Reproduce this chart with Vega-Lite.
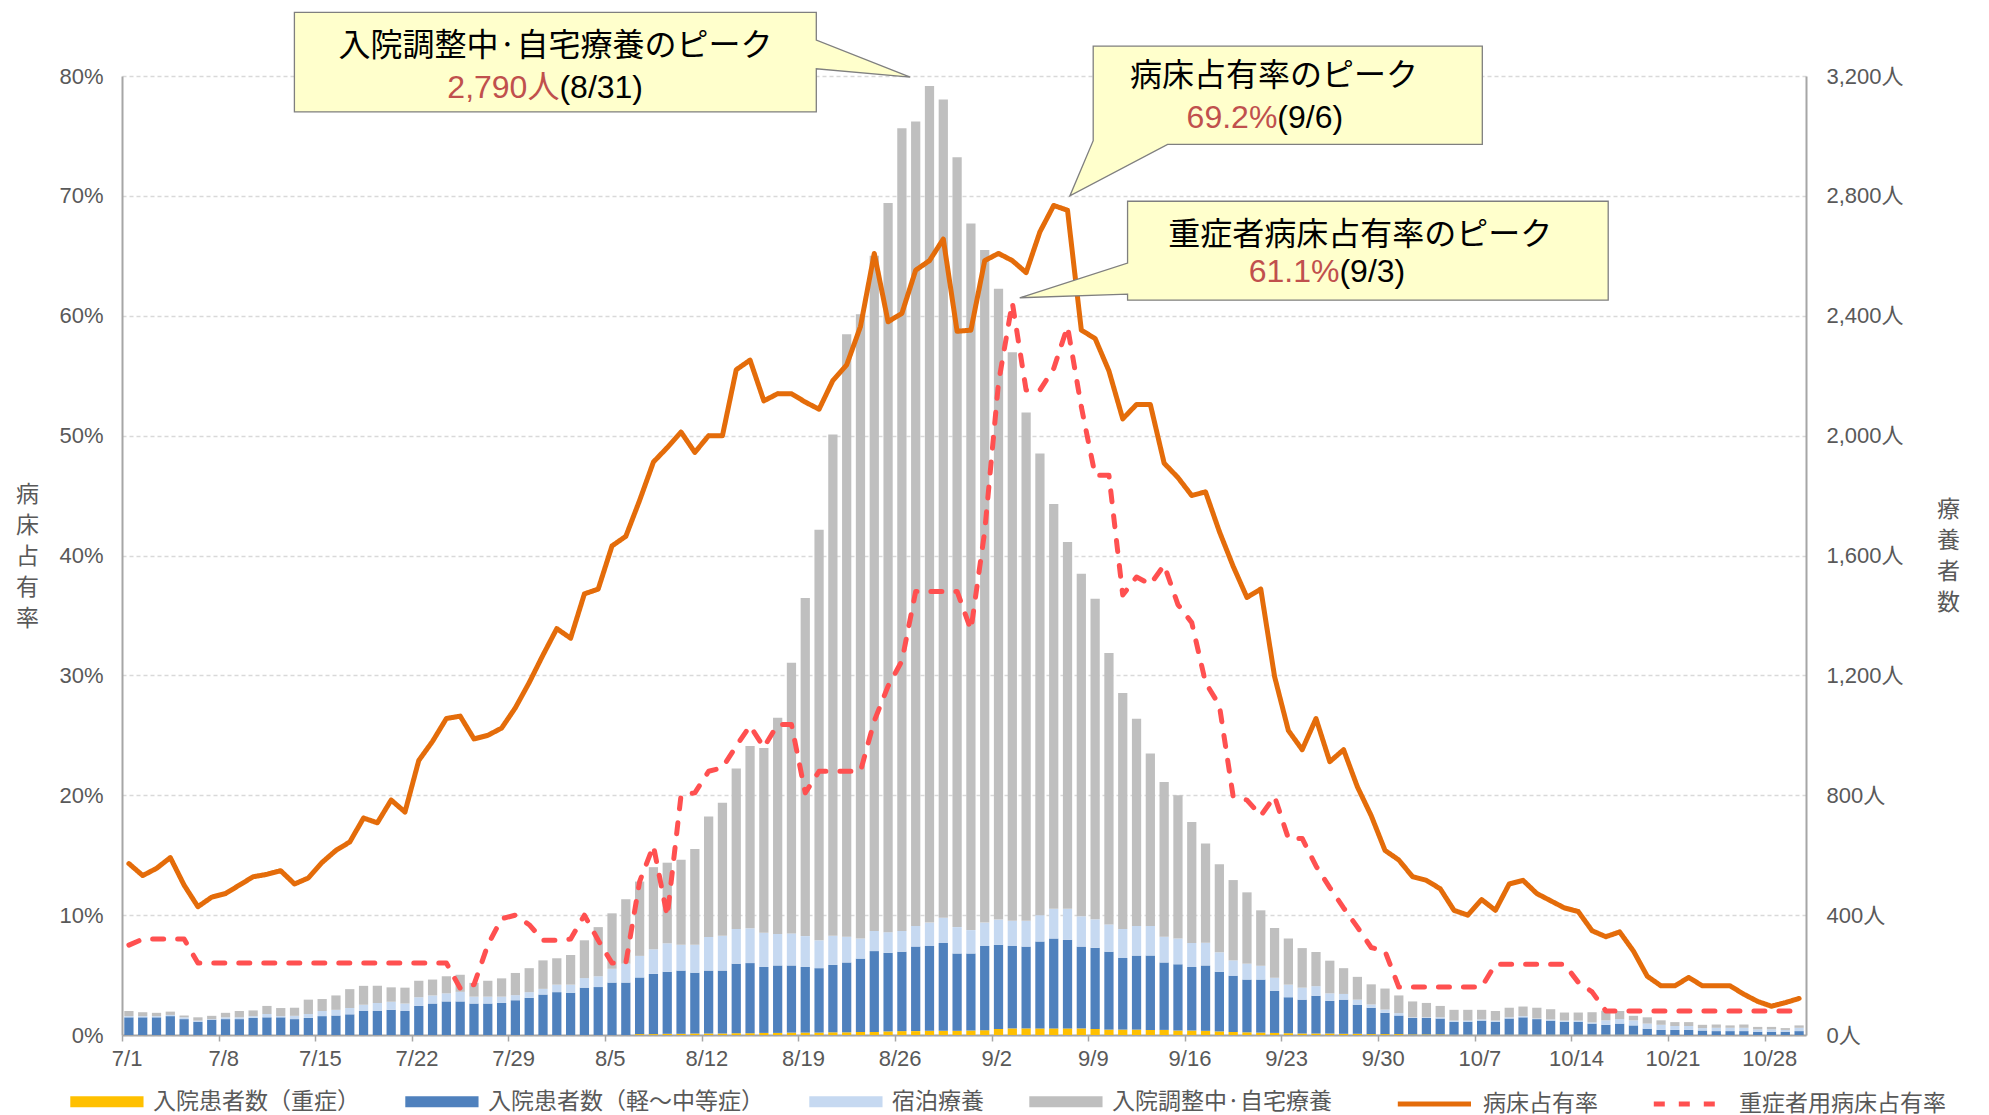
{
  "$schema": "https://vega.github.io/schema/vega-lite/v6.json",
  "width": 1684,
  "height": 959,
  "autosize": {"type": "none"},
  "padding": {"left": 122, "top": 76, "right": 183, "bottom": 80},
  "background": "white",
  "config": {
    "view": {"stroke": null},
    "axis": {"labelFont": "Liberation Sans, Noto Sans CJK JP", "titleFont": "Noto Sans CJK JP", "labelColor": "#595959", "titleColor": "#595959"},
    "legend": {"labelFont": "Noto Sans CJK JP", "labelColor": "#595959", "labelLimit": 500}
  },
  "datasets": {
    "t": [
      {"d":"7/1","b1":0,"b2":59,"b3":4,"b4":17,"occ":14.3,"socc":7.5},
      {"d":"7/2","b1":0,"b2":59,"b3":4,"b4":13,"occ":13.3,"socc":8.0},
      {"d":"7/3","b1":0,"b2":59,"b3":4,"b4":11,"occ":13.9,"socc":8.0},
      {"d":"7/4","b1":0,"b2":63,"b3":4,"b4":11,"occ":14.8,"socc":8.0},
      {"d":"7/5","b1":0,"b2":53,"b3":6,"b4":6,"occ":12.5,"socc":8.0},
      {"d":"7/6","b1":0,"b2":44,"b3":4,"b4":11,"occ":10.7,"socc":6.0},
      {"d":"7/7","b1":0,"b2":51,"b3":2,"b4":11,"occ":11.5,"socc":6.0},
      {"d":"7/8","b1":0,"b2":53,"b3":6,"b4":15,"occ":11.8,"socc":6.0},
      {"d":"7/9","b1":0,"b2":53,"b3":6,"b4":21,"occ":12.5,"socc":6.0},
      {"d":"7/10","b1":0,"b2":57,"b3":6,"b4":19,"occ":13.2,"socc":6.0},
      {"d":"7/11","b1":0,"b2":59,"b3":11,"b4":27,"occ":13.4,"socc":6.0},
      {"d":"7/12","b1":0,"b2":59,"b3":4,"b4":27,"occ":13.7,"socc":6.0},
      {"d":"7/13","b1":0,"b2":53,"b3":11,"b4":27,"occ":12.6,"socc":6.0},
      {"d":"7/14","b1":0,"b2":57,"b3":13,"b4":48,"occ":13.1,"socc":6.0},
      {"d":"7/15","b1":0,"b2":63,"b3":17,"b4":40,"occ":14.4,"socc":6.0},
      {"d":"7/16","b1":0,"b2":65,"b3":19,"b4":48,"occ":15.4,"socc":6.0},
      {"d":"7/17","b1":0,"b2":69,"b3":21,"b4":63,"occ":16.1,"socc":6.0},
      {"d":"7/18","b1":0,"b2":80,"b3":21,"b4":63,"occ":18.1,"socc":6.0},
      {"d":"7/19","b1":0,"b2":80,"b3":27,"b4":57,"occ":17.7,"socc":6.0},
      {"d":"7/20","b1":0,"b2":84,"b3":27,"b4":48,"occ":19.6,"socc":6.0},
      {"d":"7/21","b1":0,"b2":80,"b3":25,"b4":53,"occ":18.6,"socc":6.0},
      {"d":"7/22","b1":0,"b2":97,"b3":29,"b4":55,"occ":22.9,"socc":6.0},
      {"d":"7/23","b1":0,"b2":105,"b3":27,"b4":53,"occ":24.5,"socc":6.0},
      {"d":"7/24","b1":0,"b2":112,"b3":27,"b4":57,"occ":26.4,"socc":6.0},
      {"d":"7/25","b1":0,"b2":112,"b3":32,"b4":57,"occ":26.6,"socc":3.9},
      {"d":"7/26","b1":0,"b2":105,"b3":23,"b4":46,"occ":24.7,"socc":4.2},
      {"d":"7/27","b1":0,"b2":105,"b3":23,"b4":53,"occ":25.0,"socc":7.5},
      {"d":"7/28","b1":0,"b2":107,"b3":21,"b4":61,"occ":25.6,"socc":9.7},
      {"d":"7/29","b1":0,"b2":116,"b3":17,"b4":74,"occ":27.3,"socc":10.0},
      {"d":"7/30","b1":0,"b2":124,"b3":19,"b4":80,"occ":29.4,"socc":9.2},
      {"d":"7/31","b1":0,"b2":135,"b3":19,"b4":95,"occ":31.7,"socc":7.9},
      {"d":"8/1","b1":0,"b2":143,"b3":25,"b4":88,"occ":33.9,"socc":7.9},
      {"d":"8/2","b1":0,"b2":141,"b3":27,"b4":99,"occ":33.1,"socc":8.0},
      {"d":"8/3","b1":0,"b2":158,"b3":32,"b4":126,"occ":36.8,"socc":10.0},
      {"d":"8/4","b1":0,"b2":160,"b3":36,"b4":164,"occ":37.2,"socc":7.9},
      {"d":"8/5","b1":0,"b2":175,"b3":46,"b4":185,"occ":40.8,"socc":6.0},
      {"d":"8/6","b1":0,"b2":175,"b3":63,"b4":215,"occ":41.6,"socc":6.0},
      {"d":"8/7","b1":3,"b2":189,"b3":72,"b4":248,"occ":44.6,"socc":12.8},
      {"d":"8/8","b1":3,"b2":201,"b3":82,"b4":274,"occ":47.8,"socc":15.8},
      {"d":"8/9","b1":4,"b2":207,"b3":95,"b4":269,"occ":49.0,"socc":9.9},
      {"d":"8/10","b1":4,"b2":211,"b3":86,"b4":284,"occ":50.3,"socc":20.0},
      {"d":"8/11","b1":5,"b2":203,"b3":93,"b4":320,"occ":48.6,"socc":20.2},
      {"d":"8/12","b1":5,"b2":210,"b3":112,"b4":402,"occ":50.0,"socc":22.0},
      {"d":"8/13","b1":5,"b2":210,"b3":116,"b4":444,"occ":50.0,"socc":22.3},
      {"d":"8/14","b1":6,"b2":232,"b3":116,"b4":535,"occ":55.5,"socc":24.1},
      {"d":"8/15","b1":6,"b2":234,"b3":116,"b4":608,"occ":56.3,"socc":25.8},
      {"d":"8/16","b1":7,"b2":220,"b3":114,"b4":617,"occ":52.9,"socc":24.0},
      {"d":"8/17","b1":7,"b2":225,"b3":105,"b4":722,"occ":53.5,"socc":25.9},
      {"d":"8/18","b1":8,"b2":224,"b3":107,"b4":903,"occ":53.5,"socc":25.9},
      {"d":"8/19","b1":8,"b2":219,"b3":103,"b4":1128,"occ":52.8,"socc":20.2},
      {"d":"8/20","b1":8,"b2":215,"b3":93,"b4":1370,"occ":52.2,"socc":22.0},
      {"d":"8/21","b1":9,"b2":225,"b3":97,"b4":1673,"occ":54.6,"socc":22.0},
      {"d":"8/22","b1":9,"b2":233,"b3":86,"b4":2010,"occ":55.9,"socc":22.0},
      {"d":"8/23","b1":10,"b2":245,"b3":67,"b4":2083,"occ":59.1,"socc":22.0},
      {"d":"8/24","b1":10,"b2":270,"b3":67,"b4":2253,"occ":65.2,"socc":26.2},
      {"d":"8/25","b1":12,"b2":262,"b3":69,"b4":2433,"occ":59.5,"socc":29.1},
      {"d":"8/26","b1":13,"b2":265,"b3":69,"b4":2679,"occ":60.2,"socc":31.2},
      {"d":"8/27","b1":13,"b2":282,"b3":69,"b4":2684,"occ":63.8,"socc":37.0},
      {"d":"8/28","b1":14,"b2":283,"b3":78,"b4":2792,"occ":64.6,"socc":37.0},
      {"d":"8/29","b1":14,"b2":293,"b3":84,"b4":2731,"occ":66.4,"socc":37.0},
      {"d":"8/30","b1":14,"b2":258,"b3":88,"b4":2569,"occ":58.7,"socc":37.0},
      {"d":"8/31","b1":15,"b2":257,"b3":78,"b4":2358,"occ":58.8,"socc":33.8},
      {"d":"9/1","b1":16,"b2":281,"b3":78,"b4":2244,"occ":64.6,"socc":42.0},
      {"d":"9/2","b1":20,"b2":281,"b3":84,"b4":2105,"occ":65.2,"socc":54.4},
      {"d":"9/3","b1":22,"b2":275,"b3":84,"b4":1897,"occ":64.6,"socc":61.1},
      {"d":"9/4","b1":22,"b2":273,"b3":86,"b4":1696,"occ":63.6,"socc":53.8},
      {"d":"9/5","b1":22,"b2":290,"b3":88,"b4":1540,"occ":67.0,"socc":53.8},
      {"d":"9/6","b1":22,"b2":300,"b3":99,"b4":1351,"occ":69.2,"socc":55.6},
      {"d":"9/7","b1":22,"b2":296,"b3":103,"b4":1224,"occ":68.8,"socc":59.1},
      {"d":"9/8","b1":22,"b2":273,"b3":101,"b4":1143,"occ":58.8,"socc":52.4},
      {"d":"9/9","b1":20,"b2":271,"b3":95,"b4":1070,"occ":58.1,"socc":46.7},
      {"d":"9/10","b1":18,"b2":260,"b3":91,"b4":906,"occ":55.4,"socc":46.7},
      {"d":"9/11","b1":18,"b2":239,"b3":97,"b4":787,"occ":51.4,"socc":36.7},
      {"d":"9/12","b1":18,"b2":247,"b3":99,"b4":691,"occ":52.6,"socc":38.2},
      {"d":"9/13","b1":17,"b2":248,"b3":99,"b4":575,"occ":52.6,"socc":37.6},
      {"d":"9/14","b1":17,"b2":225,"b3":86,"b4":516,"occ":47.7,"socc":39.2},
      {"d":"9/15","b1":15,"b2":221,"b3":86,"b4":478,"occ":46.5,"socc":35.9},
      {"d":"9/16","b1":15,"b2":212,"b3":80,"b4":404,"occ":45.0,"socc":34.4},
      {"d":"9/17","b1":14,"b2":218,"b3":76,"b4":331,"occ":45.3,"socc":29.4},
      {"d":"9/18","b1":12,"b2":199,"b3":65,"b4":294,"occ":42.0,"socc":27.5},
      {"d":"9/19","b1":10,"b2":188,"b3":51,"b4":268,"occ":39.1,"socc":19.9},
      {"d":"9/20","b1":9,"b2":176,"b3":53,"b4":238,"occ":36.5,"socc":19.6},
      {"d":"9/21","b1":8,"b2":177,"b3":46,"b4":185,"occ":37.2,"socc":18.3},
      {"d":"9/22","b1":7,"b2":140,"b3":44,"b4":166,"occ":29.9,"socc":19.9},
      {"d":"9/23","b1":6,"b2":120,"b3":42,"b4":154,"occ":25.4,"socc":16.4},
      {"d":"9/24","b1":5,"b2":113,"b3":40,"b4":132,"occ":23.8,"socc":16.4},
      {"d":"9/25","b1":5,"b2":126,"b3":32,"b4":114,"occ":26.4,"socc":14.1},
      {"d":"9/26","b1":5,"b2":109,"b3":25,"b4":109,"occ":22.8,"socc":12.3},
      {"d":"9/27","b1":4,"b2":114,"b3":19,"b4":86,"occ":23.8,"socc":10.6},
      {"d":"9/28","b1":4,"b2":97,"b3":17,"b4":76,"occ":20.7,"socc":9.0},
      {"d":"9/29","b1":3,"b2":88,"b3":11,"b4":67,"occ":18.3,"socc":7.3},
      {"d":"9/30","b1":3,"b2":71,"b3":11,"b4":70,"occ":15.4,"socc":7.0},
      {"d":"10/1","b1":3,"b2":62,"b3":8,"b4":59,"occ":14.6,"socc":4.0},
      {"d":"10/2","b1":2,"b2":55,"b3":2,"b4":53,"occ":13.2,"socc":4.0},
      {"d":"10/3","b1":2,"b2":55,"b3":2,"b4":48,"occ":12.9,"socc":4.0},
      {"d":"10/4","b1":2,"b2":53,"b3":4,"b4":38,"occ":12.2,"socc":4.0},
      {"d":"10/5","b1":1,"b2":43,"b3":4,"b4":36,"occ":10.4,"socc":4.0},
      {"d":"10/6","b1":1,"b2":43,"b3":4,"b4":36,"occ":10.0,"socc":4.0},
      {"d":"10/7","b1":1,"b2":47,"b3":4,"b4":32,"occ":11.3,"socc":4.0},
      {"d":"10/8","b1":1,"b2":43,"b3":4,"b4":32,"occ":10.4,"socc":5.9},
      {"d":"10/9","b1":1,"b2":54,"b3":4,"b4":32,"occ":12.6,"socc":5.9},
      {"d":"10/10","b1":1,"b2":58,"b3":4,"b4":32,"occ":12.9,"socc":5.9},
      {"d":"10/11","b1":1,"b2":52,"b3":2,"b4":36,"occ":11.8,"socc":5.9},
      {"d":"10/12","b1":1,"b2":47,"b3":4,"b4":34,"occ":11.2,"socc":5.9},
      {"d":"10/13","b1":1,"b2":43,"b3":4,"b4":27,"occ":10.6,"socc":5.9},
      {"d":"10/14","b1":1,"b2":43,"b3":4,"b4":27,"occ":10.3,"socc":4.4},
      {"d":"10/15","b1":1,"b2":37,"b3":4,"b4":34,"occ":8.7,"socc":3.6},
      {"d":"10/16","b1":1,"b2":33,"b3":15,"b4":32,"occ":8.2,"socc":2.0},
      {"d":"10/17","b1":1,"b2":37,"b3":15,"b4":27,"occ":8.6,"socc":2.0},
      {"d":"10/18","b1":1,"b2":31,"b3":17,"b4":15,"occ":7.0,"socc":2.0},
      {"d":"10/19","b1":0,"b2":21,"b3":17,"b4":21,"occ":4.9,"socc":2.0},
      {"d":"10/20","b1":0,"b2":17,"b3":17,"b4":15,"occ":4.1,"socc":2.0},
      {"d":"10/21","b1":0,"b2":17,"b3":13,"b4":13,"occ":4.1,"socc":2.0},
      {"d":"10/22","b1":0,"b2":17,"b3":13,"b4":13,"occ":4.8,"socc":2.0},
      {"d":"10/23","b1":0,"b2":15,"b3":8,"b4":11,"occ":4.1,"socc":2.0},
      {"d":"10/24","b1":0,"b2":13,"b3":11,"b4":11,"occ":4.1,"socc":2.0},
      {"d":"10/25","b1":0,"b2":13,"b3":11,"b4":8,"occ":4.1,"socc":2.0},
      {"d":"10/26","b1":0,"b2":13,"b3":11,"b4":11,"occ":3.4,"socc":2.0},
      {"d":"10/27","b1":0,"b2":11,"b3":8,"b4":8,"occ":2.8,"socc":2.0},
      {"d":"10/28","b1":0,"b2":11,"b3":8,"b4":8,"occ":2.4,"socc":2.0},
      {"d":"10/29","b1":0,"b2":11,"b3":6,"b4":6,"occ":2.7,"socc":2.0},
      {"d":"10/30","b1":0,"b2":13,"b3":11,"b4":8,"occ":3.05,"socc":2.0}
    ],
    "callouts": [
      {"b":"p1","k":0,"x":12.49,"y":85.3},
      {"b":"p1","k":1,"x":50.3,"y":85.3},
      {"b":"p1","k":2,"x":50.3,"y":83.0},
      {"b":"p1","k":3,"x":57.1,"y":79.9},
      {"b":"p1","k":4,"x":50.3,"y":80.6},
      {"b":"p1","k":5,"x":50.3,"y":77.0},
      {"b":"p1","k":6,"x":12.49,"y":77.0},
      {"b":"p2","k":0,"x":70.36,"y":82.5},
      {"b":"p2","k":1,"x":98.55,"y":82.5},
      {"b":"p2","k":2,"x":98.55,"y":74.3},
      {"b":"p2","k":3,"x":75.75,"y":74.3},
      {"b":"p2","k":4,"x":68.67,"y":70.0},
      {"b":"p2","k":5,"x":70.36,"y":74.6},
      {"b":"p3","k":0,"x":72.85,"y":69.55},
      {"b":"p3","k":1,"x":107.67,"y":69.55},
      {"b":"p3","k":2,"x":107.67,"y":61.3},
      {"b":"p3","k":3,"x":72.85,"y":61.3},
      {"b":"p3","k":4,"x":72.85,"y":61.8},
      {"b":"p3","k":5,"x":65.04,"y":61.5},
      {"b":"p3","k":6,"x":72.85,"y":64.4}
    ],
    "heads": [
      {"x":31.4,"y":82.5,"t":"入院調整中·自宅療養のピーク"},
      {"x":83.46,"y":80.0,"t":"病床占有率のピーク"},
      {"x":89.7,"y":66.7,"t":"重症者病床占有率のピーク"}
    ],
    "peaks": [
      {"x":31.69,"y":79.0,"v":"2,790人","p":"(8/31)"},
      {"x":83.7,"y":76.5,"v":"69.2%","p":"(9/6)"},
      {"x":88.2,"y":63.66,"v":"61.1%","p":"(9/3)"}
    ]
  },
  "resolve": {"scale": {"x": "independent", "y": "independent", "color": "independent", "strokeDash": "independent"}},
  "layer": [
    {
      "data": {"name": "t"},
      "transform": [{"fold": ["b1", "b2", "b3", "b4"], "as": ["bk", "bv"]}],
      "mark": {"type": "bar"},
      "encoding": {
        "x": {
          "field": "d", "type": "ordinal", "sort": null,
          "scale": {"type": "band", "paddingInner": 0.33, "paddingOuter": 0.165},
          "axis": {
            "title": null,
            "values": ["7/1","7/8","7/15","7/22","7/29","8/5","8/12","8/19","8/26","9/2","9/9","9/16","9/23","9/30","10/7","10/14","10/21","10/28"],
            "bandPosition": 0, "tickOffset": -2.3,
            "labelAngle": 0, "labelFontSize": 22, "labelPadding": 7,
            "domainColor": "#A6A6A6", "domainWidth": 2,
            "tickColor": "#A6A6A6", "tickSize": 6, "tickWidth": 1.5,
            "grid": false
          }
        },
        "y": {
          "field": "bv", "type": "quantitative", "stack": "zero",
          "scale": {"domain": [0, 3200], "nice": false},
          "axis": {
            "orient": "right",
            "values": [0, 400, 800, 1200, 1600, 2000, 2400, 2800, 3200],
            "labelExpr": "format(datum.value, ',') + '人'",
            "labelFontSize": 22, "labelPadding": 20,
            "ticks": false, "tickSize": 0, "grid": false,
            "domainColor": "#A6A6A6", "domainWidth": 2,
            "title": ["療", "養", "者", "数"],
            "titleAngle": 0, "titleFontSize": 23, "titleFontWeight": "normal", "titleLineHeight": 31,
            "titleX": 142, "titleY": 433, "titleAlign": "center", "titleBaseline": "middle", "titleAnchor": null
          }
        },
        "color": {
          "field": "bk", "type": "nominal",
          "scale": {"domain": ["b1", "b2", "b3", "b4"], "range": ["#FFC000", "#4F81BD", "#C6D9F1", "#BFBFBF"]},
          "legend": {
            "title": null, "orient": "none", "direction": "horizontal",
            "legendX": -52, "legendY": 1013, "padding": 0,
            "symbolType": "M-1,-0.45H5V0.45H-1Z", "symbolSize": 596, "symbolStrokeWidth": 0,
            "labelFontSize": 23, "labelOffset": 58, "columnPadding": 45, "labelLimit": 500,
            "labelExpr": "{'b1':'入院患者数（重症）','b2':'入院患者数（軽～中等症）','b3':'宿泊療養','b4':'入院調整中·自宅療養'}[datum.label]"
          }
        },
        "order": {"field": "bk", "sort": "ascending"}
      }
    },
    {
      "data": {"name": "t"},
      "transform": [{"fold": ["occ", "socc"], "as": ["lk", "lv"]}],
      "mark": {"type": "line", "strokeWidth": 5, "strokeCap": "round", "strokeJoin": "round"},
      "encoding": {
        "x": {"field": "d", "type": "ordinal", "sort": null, "scale": {"type": "point", "padding": 0.5}, "axis": null},
        "y": {
          "field": "lv", "type": "quantitative",
          "scale": {"domain": [0, 80], "nice": false},
          "axis": {
            "orient": "left",
            "values": [0, 10, 20, 30, 40, 50, 60, 70, 80],
            "labelExpr": "datum.value + '%'",
            "labelFontSize": 22, "labelPadding": 19,
            "ticks": false, "tickSize": 0,
            "grid": true, "gridColor": "#D9D9D9", "gridDash": [4, 3], "gridWidth": 1.3,
            "domainColor": "#A6A6A6", "domainWidth": 2,
            "title": ["病", "床", "占", "有", "率"],
            "titleAngle": 0, "titleFontSize": 23, "titleFontWeight": "normal", "titleLineHeight": 31,
            "titleX": -95, "titleY": 418, "titleAlign": "center", "titleBaseline": "middle", "titleAnchor": null
          }
        },
        "color": {
          "field": "lk", "type": "nominal",
          "scale": {"domain": ["occ", "socc"], "range": ["#E46C0A", "#FF5050"]},
          "legend": {
            "title": null, "orient": "none", "direction": "horizontal",
            "legendX": 1273, "legendY": 1013, "padding": 0,
            "symbolType": "M-1,0H5", "symbolSize": 596, "symbolStrokeWidth": 5,
            "labelFontSize": 23, "labelOffset": 58, "columnPadding": 45, "labelLimit": 500,
            "labelExpr": "{'occ':'病床占有率','socc':'重症者用病床占有率'}[datum.label]"
          }
        },
        "strokeDash": {
          "field": "lk", "type": "nominal",
          "scale": {"domain": ["occ", "socc"], "range": [[1, 0], [11, 14]]},
          "legend": {
            "title": null, "orient": "none", "direction": "horizontal",
            "legendX": 1273, "legendY": 1013, "padding": 0,
            "symbolType": "M-1,0H5", "symbolSize": 596, "symbolStrokeWidth": 5,
            "labelFontSize": 23, "labelOffset": 58, "columnPadding": 45, "labelLimit": 500,
            "labelExpr": "{'occ':'病床占有率','socc':'重症者用病床占有率'}[datum.label]"
          }
        }
      }
    },
    {
      "data": {"name": "callouts"},
      "mark": {"type": "line", "interpolate": "linear-closed", "fill": "#FFFFCC", "stroke": "#7F7F7F", "strokeWidth": 1.3},
      "encoding": {
        "x": {"field": "x", "type": "quantitative", "scale": {"domain": [0, 122], "nice": false, "zero": false}, "axis": null},
        "y": {"field": "y", "type": "quantitative", "scale": {"domain": [0, 80], "nice": false}, "axis": null},
        "detail": {"field": "b", "type": "nominal"},
        "order": {"field": "k", "type": "quantitative"}
      }
    },
    {
      "data": {"name": "heads"},
      "mark": {"type": "text", "align": "center", "baseline": "middle", "fontSize": 32, "font": "Noto Sans CJK JP", "color": "#000000"},
      "encoding": {
        "x": {"field": "x", "type": "quantitative", "scale": {"domain": [0, 122], "nice": false, "zero": false}, "axis": null},
        "y": {"field": "y", "type": "quantitative", "scale": {"domain": [0, 80], "nice": false}, "axis": null},
        "text": {"field": "t"}
      }
    },
    {
      "data": {"name": "peaks"},
      "mark": {"type": "text", "align": "right", "baseline": "middle", "fontSize": 32, "font": "Liberation Sans, Noto Sans CJK JP", "color": "#C0504D"},
      "encoding": {
        "x": {"field": "x", "type": "quantitative", "scale": {"domain": [0, 122], "nice": false, "zero": false}, "axis": null},
        "y": {"field": "y", "type": "quantitative", "scale": {"domain": [0, 80], "nice": false}, "axis": null},
        "text": {"field": "v"}
      }
    },
    {
      "data": {"name": "peaks"},
      "mark": {"type": "text", "align": "left", "baseline": "middle", "fontSize": 32, "font": "Liberation Sans, Noto Sans CJK JP", "color": "#000000"},
      "encoding": {
        "x": {"field": "x", "type": "quantitative", "scale": {"domain": [0, 122], "nice": false, "zero": false}, "axis": null},
        "y": {"field": "y", "type": "quantitative", "scale": {"domain": [0, 80], "nice": false}, "axis": null},
        "text": {"field": "p"}
      }
    }
  ]
}
